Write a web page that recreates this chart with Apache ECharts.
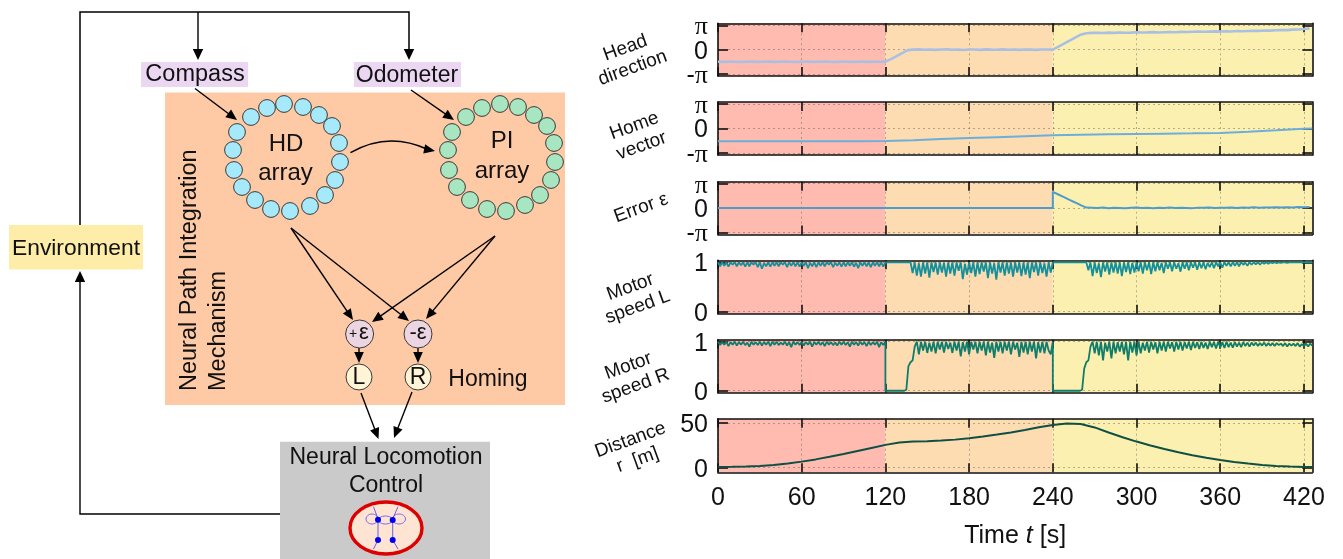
<!DOCTYPE html>
<html>
<head>
<meta charset="utf-8">
<style>html,body{margin:0;padding:0;background:#fff}#c{width:1343px;height:559px}</style>
<script src="https://cdn.jsdelivr.net/npm/echarts@6/dist/echarts.min.js"></script>
</head>
<body>
<div id="c"></div>
<script>
// ---------- data ----------
const phases = [[0,120],[120,240],[240,426]];
const timeTicks = [0,60,120,180,240,300,360,420];

const headStep = 4;
const headDirection = [
-1.56,-1.58,-1.55,-1.57,-1.59,-1.56,-1.54,-1.58,-1.57,-1.55,-1.58,-1.56,-1.53,-1.57,-1.59,-1.56,-1.55,-1.58,-1.56,-1.54,-1.57,-1.59,-1.56,-1.55,-1.58,-1.57,-1.54,-1.58,-1.56,-1.57,-1.55,
-1.22,-.84,-.45,-.06,
0,.03,-.02,.01,-.03,.02,.04,-.01,0,-.04,.02,.01,-.03,.03,0,-.02,.04,-.01,.02,-.03,.01,0,-.03,.02,.01,0,
.38,.78,1.17,1.56,1.93,2.12,
2.16,2.18,2.15,2.2,2.17,2.22,2.18,2.2,2.24,2.21,2.23,2.26,2.22,2.25,2.28,2.25,2.29,2.27,2.3,2.33,2.3,2.33,2.36,2.33,2.37,2.35,2.4,2.38,2.41,2.44,2.42,2.47,2.45,2.5,2.54,2.52,2.58,2.6,2.66,2.74];

const homeTimes = [0,20,40,60,80,100,120,140,160,180,200,220,240,260,280,300,320,340,360,380,400,420,426];
const homeVector = [-1.62,-1.62,-1.62,-1.62,-1.62,-1.62,-1.61,-1.52,-1.36,-1.23,-1.11,-.99,-.88,-.79,-.74,-.7,-.66,-.62,-.57,-.42,-.24,-.04,0];

const errorFlatTimes = [0,240];
const errorFlat = [0,0];
const errorTailStart = 240;
const errorTail = [2.09,1.75,1.4,1.05,.72,.38,.06,
.03,0,.06,-.02,.05,.01,-.03,.04,.06,0,.03,-.02,.05,.02,.06,0,.04,.02,-.01,.05,.03,.07,.01,.05,.03,.08,.02,.06,.04,.09,.05,.08,.06,.1,.07,.11,.08,.13,.1,.14];

const speedStep = 1.5;
const motorLFirst = [
1,.92,1,.93,1,.91,1,.95,1,.92,1,.94,1,.91,1,.92,1,.95,1,.9,
1,.87,.98,.92,1,.91,1,.93,1,.92,1,.95,1,.9,1,.93,1,.92,1,.91,
1,.93,1,.88,.99,.92,1,.9,1,.93,1,.92,1,.95,1,.9,.99,.93,1,.91,
1,.92,1,.93,1,.91,.99,.88,1,.93,1,.92,1,.9,1,.93,1,.92,1,.91,1];
const motorLSecond = [
1,1,1,1,1,1,1,1,1,1,1,1,1,
.78,1,.73,.98,.71,1,.77,1,.69,1,
.8,1,.75,1,.79,.99,.71,1,.77,1,
.73,1,.83,1,.66,.97,.75,1,.78,1,
.71,1,.76,1,.81,1,.68,1,.77,.98,
.65,1,.79,1,.73,1,.77,1,.71,1,
.79,1,.72,1,.75,1,.68,1,.8,1,
.73,1,.78,.98,.71,1,.79,1];
const motorLThird = [
1,1,1,1,1,1,1,1,1,1,1,1,1,1,1,1,1,
.84,1,.72,1,.78,.98,.7,1,.81,1,
.75,1,.79,1,.77,1,.72,1,.8,1,
.76,.99,.79,1,.82,1,.77,1,.84,1,
.76,1,.82,1,.84,.99,.78,1,.87,1,
.82,1,.87,.98,.81,1,.87,1,.84,1,
.89,1,.85,1,.88,1,.86,.99,.9,1,
.88,1,.92,1,.89,1,.93,1,.92,1,
.93,1,.92,1,.95,.99,.93,1,.95,1,
.96,1,.95,1,.97,1,.97,1,.98,1,
.98,1,.99,1,1,.99,1,1,1,1,
1,1,1,1,1,1,1,1];

const motorRFirst = [
1,.93,.99,.94,1,.91,.99,.94,1,.92,.99,.94,1,.93,.98,.9,1,.94,.99,.93,
1,.92,.99,.94,1,.91,1,.94,1,.93,.98,.94,1,.92,.99,.89,1,.94,.99,.93,
1,.92,.99,.94,1,.9,.99,.94,1,.93,.99,.91,1,.94,.99,.93,.98,.92,1,.94,
1,.93,.99,.9,1,.94,.99,.92,1,.94,.99,.91,1,.93,.99,.94,1,.89,.99,.93,1];
const motorRSecond = [
0,0,0,0,0,0,0,0,0,0,.02,
.5,.58,.62,.9,1,
.74,1,.82,1,.77,.98,.8,1,.76,1,
.84,1,.78,1,.85,.98,.77,1,.82,1,
.7,.99,.8,1,.74,1,.84,1,.76,1,
.82,1,.72,1,.78,.98,.67,1,.8,1,
.76,1,.82,1,.74,1,.84,.98,.69,1,
.78,1,.74,1,.8,1,.66,.99,.78,1,
.76,1,.82,.74,1];
const motorRThird = [
0,0,0,0,0,0,0,0,0,0,0,0,0,0,.02,
.45,.58,.62,.9,1,
.76,1,.72,1,.62,.98,.8,1,.66,1,
.76,.99,.8,1,.74,1,.62,1,.78,1,
.72,1,.76,.98,.82,1,.78,1,.84,.99,
.76,1,.82,1,.8,1,.86,.99,.8,1,
.84,1,.82,.99,.86,1,.83,1,.87,.99,
.85,1,.87,.98,.85,1,.89,.99,.86,1,
.88,.99,.87,1,.89,.98,.88,.99,.9,.98,
.89,.99,.91,.98,.9,.98,.92,.98,.91,.97,
.92,.98,.91,.97,.92,.97,.91,.97,.93,.96,
.91,.97,.9,.96,.92,.96,.91,.97,.9,.95,
.91,.96,.9,.96,.92];

const distanceTimes = [0,10,20,30,40,50,60,70,80,90,100,110,120,130,140,150,160,170,180,190,200,210,220,230,240,250,260,270,280,290,300,310,320,330,340,350,360,370,380,390,400,410,420,426];
const distance = [.8,1,1.4,2,3,4.6,6.8,9.3,12.2,15.4,18.8,22.2,25.6,28.2,29.3,29.8,30.5,31.5,33,35,37.2,39.6,42.4,45.4,48,49.6,49,45.2,39.5,34.2,29.3,25,21,17.3,14,11.2,8.7,6.4,4.6,3.1,2,1.2,.8,.7];

const angleTicks = [-Math.PI,0,Math.PI];
const angleOuterTicks = [-Math.PI,Math.PI];
const angleMiddleTicks = [0];
const angleTickLabels = ['-{s|π}','0','{s|π}'];
const speedTicks = [0,1];
const speedTickLabels = ['0','1'];
const distanceTicks = [0,50];
const distanceTickLabels = ['0','50'];

// ---------- helpers turning the lists into [t, value] pairs ----------
const evenly = (start, step, vals) => vals.map((v,i)=>[start+i*step, v]);
const paired = (ts, vals) => vals.map((v,i)=>[ts[i], v]);
const thirds = (a,b,c,step) => evenly(0,step,a).concat(evenly(120,step,b), evenly(240,step,c));

// ---------- layout and styling ----------
const gridLeft = 718, gridWidth = 594.3, phaseColors = ['#FFBBB0','#FDDCB2','#FCF0B0'];
const panels = [
 {top:23.3,h:52.7,min:-3.4,max:3.4,ticks:angleTicks,shown:angleOuterTicks,extra:angleMiddleTicks,labels:angleTickLabels,color:'#A9C0E3',w:2.6,data:evenly(0,headStep,headDirection)},
 {top:102,h:53,min:-3.4,max:3.4,ticks:angleTicks,shown:angleOuterTicks,extra:angleMiddleTicks,labels:angleTickLabels,color:'#6DAEDB',w:2,data:paired(homeTimes,homeVector)},
 {top:181.7,h:52.7,min:-3.4,max:3.4,ticks:angleTicks,shown:angleOuterTicks,extra:angleMiddleTicks,labels:angleTickLabels,color:'#4E9CCB',w:2,data:paired(errorFlatTimes,errorFlat).concat(evenly(errorTailStart,headStep,errorTail))},
 {top:260.3,h:53.4,min:-.04,max:1.04,ticks:speedTicks,shown:speedTicks,labels:speedTickLabels,color:'#14909C',w:1.8,data:thirds(motorLFirst,motorLSecond,motorLThird,speedStep)},
 {top:339.7,h:53,min:-.04,max:1.04,ticks:speedTicks,shown:speedTicks,labels:speedTickLabels,color:'#0E7D6B',w:1.8,data:thirds(motorRFirst,motorRSecond,motorRThird,speedStep)},
 {top:418.7,h:53.6,min:-5.2,max:55,ticks:distanceTicks,shown:distanceTicks,labels:distanceTickLabels,color:'#0F5045',w:2,data:paired(distanceTimes,distance)}
];
const font = '"Liberation Sans", Arial, sans-serif';
const borderLine = {show:true,onZero:false,lineStyle:{color:'#111',width:1.6}};
const dotted = {show:true,lineStyle:{color:'rgba(80,80,80,0.42)',width:1,type:[2,3]}};
const yLabel = (p,values) => ({customValues:values,margin:10,fontSize:25,color:'#111',fontFamily:font,
  padding:[4,0,0,0],lineHeight:16,hideOverlap:false,
  formatter:v=>p.labels[p.ticks.indexOf(v)],
  rich:{s:{fontSize:26,lineHeight:16,color:'#111',fontFamily:'"Liberation Serif", serif'}}});

const grids=[], xAxes=[], yAxes=[], series=[];
panels.forEach((p,i)=>{
  grids.push({left:gridLeft,top:p.top,width:gridWidth,height:p.h,show:false});
  const baseX = {type:'value',gridIndex:i,min:0,max:426,interval:60,z:1,axisLine:borderLine,
    axisTick:{show:true,inside:true,length:9,lineStyle:{color:'#111',width:1.6},customValues:timeTicks}};
  xAxes.push(Object.assign({},baseX,{position:'bottom',splitLine:dotted,
    axisLabel:{show:i===5,customValues:timeTicks,margin:13,fontSize:25,color:'#111',fontFamily:font,hideOverlap:false},
    name:i===5?'Time {i|t} [s]':'',nameLocation:'middle',nameGap:51,
    nameTextStyle:{fontSize:25,color:'#111',fontFamily:font,rich:{i:{fontSize:25,fontStyle:'italic',color:'#111',fontFamily:font}}}}));
  xAxes.push(Object.assign({},baseX,{position:'top',splitLine:{show:false},axisLabel:{show:false}}));
  const baseY = {type:'value',gridIndex:i,min:p.min,max:p.max,z:1,axisLine:borderLine,
    axisTick:{show:true,inside:true,length:10,lineStyle:{color:'#111',width:1.6},customValues:p.ticks}};
  yAxes.push(Object.assign({},baseY,{position:'left',splitLine:dotted,axisLabel:yLabel(p,p.shown)}));
  yAxes.push(Object.assign({},baseY,{position:'right',splitLine:{show:false},axisLabel:{show:false}}));
  series.push({type:'line',xAxisIndex:2*i,yAxisIndex:2*i,data:[],silent:true,z:0,
    markArea:{silent:true,z:0,itemStyle:{opacity:1},
      data:phases.map((ph,k)=>[{xAxis:ph[0],itemStyle:{color:phaseColors[k],opacity:1}},{xAxis:ph[1]}])}});
  series.push({type:'line',xAxisIndex:2*i,yAxisIndex:2*i,data:p.data,showSymbol:false,z:3,silent:true,
    lineStyle:{color:p.color,width:p.w},itemStyle:{color:p.color}});
});
// the middle tick label of the angle panels sits on an overlaid axis of the same extent
panels.filter(p=>p.extra).forEach(p=>{
  const k=grids.length;
  grids.push({left:gridLeft,top:p.top,width:gridWidth,height:p.h,show:false});
  xAxes.push({type:'value',gridIndex:k,show:false,min:0,max:426});
  yAxes.push({type:'value',gridIndex:k,min:p.min,max:p.max,position:'left',axisLine:{show:false},axisTick:{show:false},
    splitLine:{show:false},axisLabel:yLabel(p,p.extra)});
});

// ---------- schematic on the left ----------
const g=[];
const black='#000';
const rect=(x,y,w,h,fill)=>g.push({type:'rect',shape:{x,y,width:w,height:h},style:{fill},z:10,silent:true});
const text=(t,x,y,size,rot,align)=>g.push({type:'text',x,y,rotation:rot||0,silent:true,z:30,
  style:{text:t,x:0,y:0,align:align||'center',verticalAlign:'middle',fontSize:size,fontFamily:font,fill:'#111',lineHeight:size*1.12}});
const line=(pts,w,col)=>g.push({type:'polyline',shape:{points:pts},style:{stroke:col||black,lineWidth:w||1.4,fill:null},z:20,silent:true});
const head=(x1,y1,x2,y2,len,hw)=>{const a=Math.atan2(y2-y1,x2-x1),c=Math.cos(a),s=Math.sin(a);
  g.push({type:'polygon',shape:{points:[[x2,y2],[x2-len*c-hw*s,y2-len*s+hw*c],[x2-len*c+hw*s,y2-len*s-hw*c]]},style:{fill:black},z:21,silent:true});};
const arrow=(x1,y1,x2,y2,w)=>{const a=Math.atan2(y2-y1,x2-x1);line([[x1,y1],[x2-8*Math.cos(a),y2-8*Math.sin(a)]],w);head(x1,y1,x2,y2,11,4.8);};
const circ=(x,y,r,fill,lw)=>g.push({type:'circle',shape:{cx:x,cy:y,r},style:{fill,stroke:'#3a3a3a',lineWidth:lw||1},z:22,silent:true});
const ell=(cx,cy,rx,ry,fill,stroke,lw,z)=>g.push({type:'ellipse',shape:{cx,cy,rx,ry},style:{fill,stroke,lineWidth:lw},z:z||22,silent:true});

rect(165,92.5,400,312.5,'#FECAA6');
rect(141,62,107,25,'#ECD7F2');
rect(354,62,107,25,'#ECD7F2');
rect(9,225,134,44.5,'#FDEDA8');
rect(280,441.7,210,118,'#CACACA');

line([[80,225],[80,12],[409,12],[409,50]],1.5);
line([[198,12],[198,50]],1.4);
head(198,40,198,60,11,5.2); head(409,40,409,60,11,5.2);
line([[280,514],[80,514],[80,280]],1.4);
head(80,290,80,271,11,5.2);

arrow(195,88.5,237,120);
arrow(411,90,454,120);
g.push({type:'bezierCurve',shape:{x1:350.5,y1:152.7,x2:428,y2:149.5,cpx1:388,cpy1:131},style:{stroke:black,lineWidth:1.5,fill:null},z:20,silent:true});
head(420,148,435,151,11,4.8);

arrow(291,228,353,320);
arrow(291,228,409,321);
arrow(495,236,372,322);
arrow(495,236,426,319);
arrow(359,348,359,363);
arrow(418,348,418,363);
arrow(361,393,378.5,439);
arrow(412,392,394,438);

[[284,104],[303,107],[319,115],[332,126],[339,143],[340,162],[335,180],[325,195],[310,206],[290,211],[271,209],[255,200],[242,187],[234,170],[233,150],[237,132],[251,117],[267,108]]
 .forEach(c=>circ(c[0],c[1],8.4,'#A5E9FA'));
[[500,104],[518,107],[534,115],[547,126],[554,143],[555,162],[551,180],[540,195],[525,205],[506,211],[487,209],[470,200],[457,187],[449,170],[448,150],[452,132],[466,117],[482,108]]
 .forEach(c=>circ(c[0],c[1],8.4,'#A8E6C2'));
circ(359.6,334,14,'#EBD5E0');
circ(418,334,14,'#EBD5E0');
circ(359,377,13,'#FFF5D6');
circ(418,377,13,'#FFF5D6');

text('Compass',195,75,23.5);
text('Odometer',407,76,23);
text('Environment',76,249,22.8);
text('HD',286,144,24);
text('array',285.5,173,24);
text('PI',502,141,24);
text('array',502,171,24);
text('Homing',488,379.5,23);
text('Neural Path Integration',190,391,23.5,Math.PI/2,'left');
text('Mechanism',219,391,23.5,Math.PI/2,'left');
text('+',353,334,14);
text('ε',364,333,22);
text('-ε',418,333,22);
text('L',359,378,23);
text('R',418,378,23);
text('Neural Locomotion',386,458,23);
text('Control',386,486,23);

// small robot icon
ell(386,528,36,26,'#FFE4D4','#DD0000',3.4,23);
const blue='#5050EE';
ell(372,519,6,5,'none',blue,.8,24);
ell(399,519,6.5,5,'none',blue,.8,24);
ell(385.4,520,7,4,'none',blue,.8,24);
line([[373.5,506.7],[378,519],[378,540],[373.5,549]],.9,blue);
line([[398,506.7],[392.7,519],[392.7,540],[398,549]],.9,blue);
g[g.length-1].z=24; g[g.length-2].z=24;
[[378,519.7],[392.7,520],[378,540],[392.7,540]].forEach(d=>
  g.push({type:'circle',shape:{cx:d[0],cy:d[1],r:3},style:{fill:'#0000EE'},z:25,silent:true}));

// rotated panel captions
const tilt=20*Math.PI/180, capSize=19;
[['Head\ndirection',629,58],['Home\nvector',638,136],['Error ε',641,208],['Motor\nspeed L',634,297],['Motor\nspeed R',632,376],['Distance\nr  [m]',634,450]]
 .forEach(c=>text(c[0],c[1],c[2],capSize,tilt));

const chart=echarts.init(document.getElementById('c'),null,{renderer:'canvas'});
chart.setOption({animation:false,backgroundColor:'#fff',grid:grids,xAxis:xAxes,yAxis:yAxes,series,graphic:{elements:g}});
</script>
</body>
</html>
